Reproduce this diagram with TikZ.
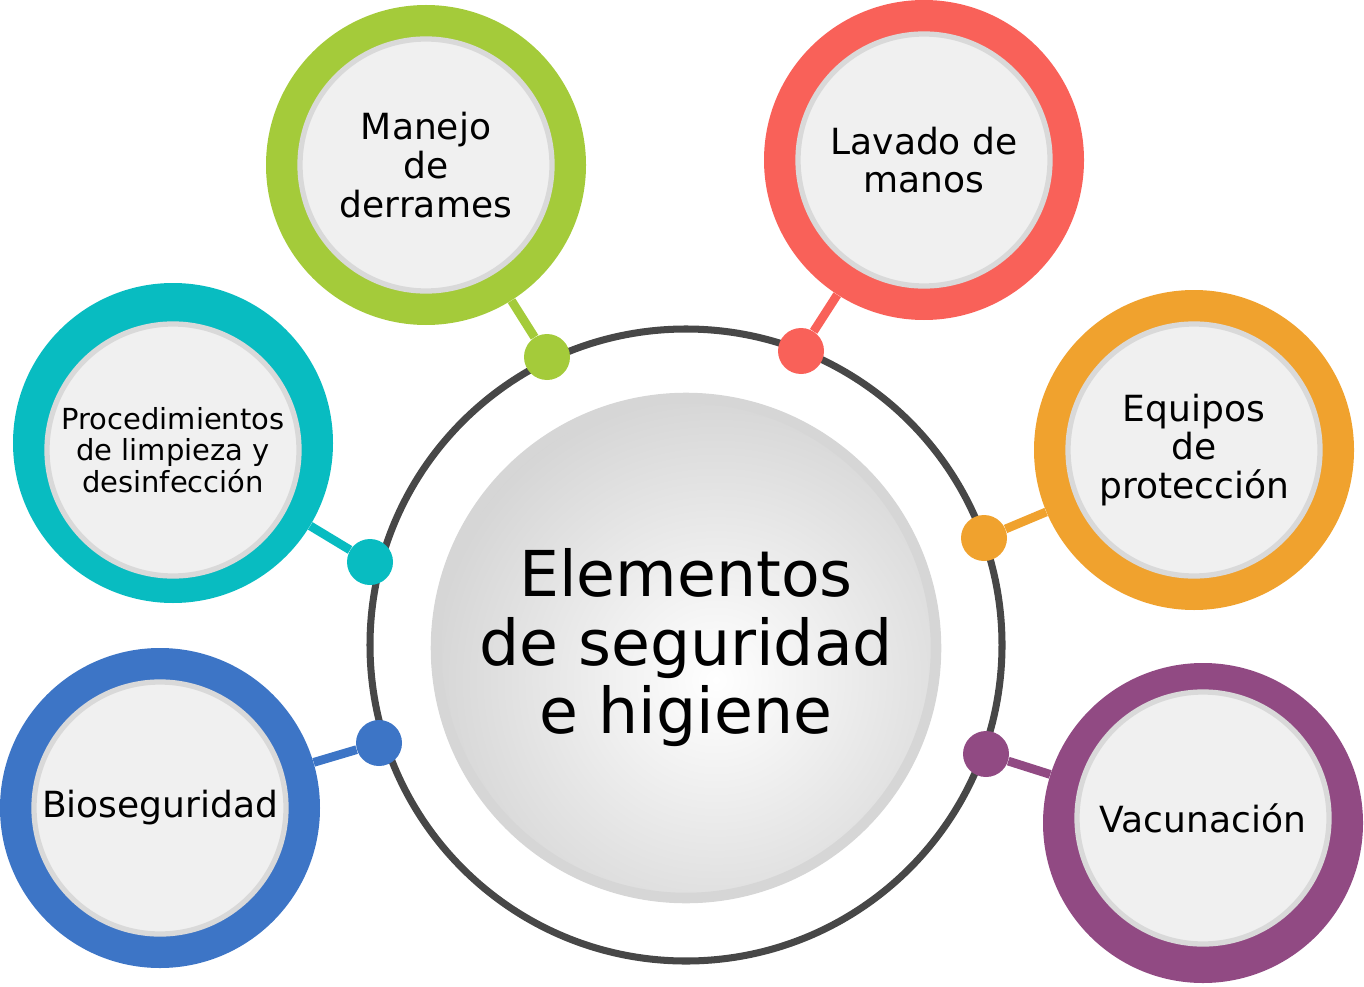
\documentclass[tikz,border=0pt]{standalone}
\usepackage{fontspec}
\setmainfont{DejaVu Sans}
\begin{document}
\begin{tikzpicture}[x=0.02cm,y=-0.02cm,
 ring/.style={circle,fill=#1,minimum size=320*0.02cm,inner sep=0pt},
 inner/.style={circle,fill=gray!12,draw=gray!30,line width=3pt,minimum size=252*0.02cm,align=center,inner sep=0pt,font=\fontsize{20.5}{22}\selectfont},
 dot/.style={circle,fill=#1,minimum size=46*0.02cm,inner sep=0pt},
 link/.style={line width=5pt,draw=#1}]
\useasboundingbox (0,0) rectangle (1364,986);
\definecolor{cg}{HTML}{A4CB3A}\definecolor{cr}{HTML}{F96159}
\definecolor{co}{HTML}{F0A22E}\definecolor{cp}{HTML}{914A83}
\definecolor{cb}{HTML}{3D75C6}\definecolor{ct}{HTML}{08BCC1}
\node[circle,draw=black!72,line width=4pt,minimum size=632*0.02cm,inner sep=0pt] (big) at (686,645) {};
\node[ring=cg] (s1) at (426,165) {}; \node[inner] (t1) at (426,165) {Manejo\\de\\derrames};
\node[ring=cr] (s2) at (924,160) {}; \node[inner] (t2) at (924,160) {Lavado de\\manos};
\node[ring=co] (s3) at (1194,450) {}; \node[inner] (t3) at (1194,450) {Equipos\\de\\protección};
\node[ring=cp] (s4) at (1203,823) {}; \node[inner] (t4) at (1203,818) {Vacunación};
\node[ring=cb] (s5) at (160,808) {}; \node[inner] (t5) at (160,808) {Bioseguridad};
\node[ring=ct] (s6) at (173,443) {}; \node[inner,font=\fontsize{16.5}{18}\selectfont] (t6) at (173,450) {Procedimientos\\de limpieza y\\desinfección};
\node[dot=cg] (d1) at (547,357) {};
\node[dot=cr] (d2) at (801,351) {};
\node[dot=co] (d3) at (984,538) {};
\node[dot=cp] (d4) at (986,754) {};
\node[dot=cb] (d5) at (379,743) {};
\node[dot=ct] (d6) at (370,562) {};
\draw[link=cg] (d1) -- (s1);
\draw[link=cr] (d2) -- (s2);
\draw[link=co] (d3) -- (s3);
\draw[link=cp] (d4) -- (s4);
\draw[link=cb] (d5) -- (s5);
\draw[link=ct] (d6) -- (s6);
\begin{scope}
\clip (686,648) circle (250);
\shade[inner color=white,outer color=gray!35] (716,680) circle (310);
\end{scope}
\node[circle,draw=gray!32,line width=6pt,minimum size=500*0.02cm,inner sep=0pt,align=center,font=\fontsize{36}{39}\selectfont] (c) at (686,648) {Elementos\\de seguridad\\e higiene};
\end{tikzpicture}
\end{document}
